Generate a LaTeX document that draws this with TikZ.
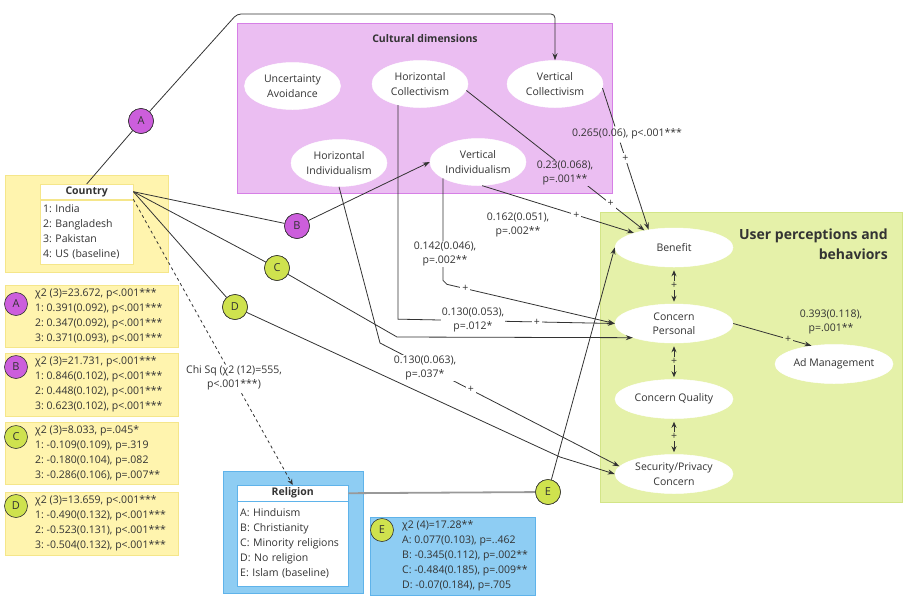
\documentclass[tikz,border=0pt]{standalone}
\usepackage{fontspec}
\setmainfont{Open Sans}
\usetikzlibrary{shapes.geometric,arrows.meta,calc}
\definecolor{cultbg}{HTML}{EBBEF2}
\definecolor{cultbd}{HTML}{D67FE6}
\definecolor{yelbg}{HTML}{FFF4AE}
\definecolor{yelbd}{HTML}{F5E68A}
\definecolor{grnbg}{HTML}{E5F1A9}
\definecolor{grnbd}{HTML}{D3E588}
\definecolor{blubg}{HTML}{8ECDF3}
\definecolor{blubd}{HTML}{5FB3EA}
\definecolor{purc}{HTML}{CC5EDC}
\definecolor{limc}{HTML}{CFE24E}
\definecolor{ink}{HTML}{333333}
\newcommand\myfs{\fontsize{10.5}{14.5}\selectfont}
\newcommand\mystat{\fontsize{10.5}{15}\selectfont}
\frenchspacing
\begin{document}
\frenchspacing
\begin{tikzpicture}[x=1pt,y=-1pt,
  every node/.style={text=ink},
  conn/.style={draw=ink, line width=0.8pt},
  arr/.style={conn, -{Stealth[length=7pt,width=5pt]}},
  dbl/.style={conn, {Stealth[length=6pt,width=5pt]}-{Stealth[length=6pt,width=5pt]}, shorten <=3pt, shorten >=2pt},
  ell/.style={ellipse, fill=white, draw=white, line width=0.5pt, inner xsep=-12pt, inner ysep=-3pt, align=center, font=\myfs},
  cellA/.style={ell, minimum width=96pt, minimum height=47pt},
  cellB/.style={ell, minimum width=118pt, minimum height=39pt},
  lab/.style={fill=white, inner sep=1pt, align=center, font=\myfs},
  pl/.style={fill=white, inner sep=2pt, font=\myfs},
  circP/.style={circle, fill=purc, draw=ink, line width=0.6pt, minimum size=25pt, inner sep=0, font=\fontsize{11}{11}\selectfont},
  circL/.style={circP, fill=limc},
  ybox/.style={draw=yelbd, fill=yelbg, anchor=north west, inner sep=0, line width=0.8pt},
  bbox/.style={draw=blubd, fill=blubg, anchor=north west, inner sep=0, line width=0.8pt},
  stat/.style={anchor=west, align=left, font=\mystat, inner sep=0},
  hdr/.style={fill=white, anchor=north west, minimum width=111pt, minimum height=16pt, inner sep=0, font=\bfseries\myfs},
  tbody/.style={fill=white, anchor=north west, inner sep=3pt, align=left, font=\mystat}
]
\useasboundingbox (0,0) rectangle (909,597);

% ---------- containers ----------
\node[draw=cultbd, fill=cultbg, anchor=north west, minimum width=375pt, minimum height=170pt, inner sep=0, line width=0.8pt] (cult) at (237,23) {};
\node[font=\bfseries\myfs] (culttitle) at (425,39) {Cultural dimensions};

\node[draw=grnbd, fill=grnbg, anchor=north west, minimum width=302pt, minimum height=290pt, inner sep=0, line width=0.8pt] (gbox) at (600,212) {};
\node[anchor=north east, align=right, font=\bfseries\fontsize{14}{20}\selectfont, inner sep=0] (gtitle) at (888,229) {User perceptions and\\behaviors};

% Country
\node[ybox, minimum width=163pt, minimum height=97pt] (cbox) at (5,175) {};
\node[hdr, draw=yelbd, minimum width=93pt, minimum height=15pt] (chead) at (40,184) {Country};
\node[tbody, draw=yelbd, minimum width=93pt, minimum height=64pt, text width=87pt] (cbody) at (40,200) {1: India\\2: Bangladesh\\3: Pakistan\\4: US (baseline)};

% Religion
\node[bbox, minimum width=140pt, minimum height=122pt] (rbox) at (223,471) {};
\node[hdr, draw=blubd] (rhead) at (237,485) {Religion};
\node[tbody, draw=blubd, minimum width=111pt, minimum height=85pt, text width=105pt] (rbody) at (237,501) {A: Hinduism\\B: Christianity\\C: Minority religions\\D: No religion\\E: Islam (baseline)};

% stats boxes
\node[ybox, minimum width=173pt, minimum height=62pt] (sa) at (5,285) {};
\node[stat] (ta) at (35,316) {χ2 (3)=23.672, p<.001***\\1: 0.391(0.092), p<.001***\\2: 0.347(0.092), p<.001***\\3: 0.371(0.093), p<.001***};
\node[circP, minimum size=23pt] (ca) at (16,304) {A};

\node[ybox, minimum width=173pt, minimum height=63pt] (sb) at (5,353) {};
\node[stat] (tb) at (35,384.5) {χ2 (3)=21.731, p<.001***\\1: 0.846(0.102), p<.001***\\2: 0.448(0.102), p<.001***\\3: 0.623(0.102), p<.001***};
\node[circP, minimum size=23pt] (cb) at (16,367) {B};

\node[ybox, minimum width=173pt, minimum height=62pt] (sc) at (5,422) {};
\node[stat] (tc) at (35,453) {χ2 (3)=8.033, p=.045*\\1: -0.109(0.109), p=.319\\2: -0.180(0.104), p=.082\\3: -0.286(0.106), p=.007**};
\node[circL, minimum size=23pt] (cc) at (16,437) {C};

\node[ybox, minimum width=173pt, minimum height=63pt] (sd) at (5,492) {};
\node[stat] (td) at (35,523.5) {χ2 (3)=13.659, p<.001***\\1: -0.490(0.132), p<.001***\\2: -0.523(0.131), p<.001***\\3: -0.504(0.132), p<.001***};
\node[circL, minimum size=23pt] (cd) at (16,506) {D};

\node[bbox, minimum width=165pt, minimum height=78pt] (se) at (370,517) {};
\node[stat] (te) at (402,556) {χ2 (4)=17.28**\\A: 0.077(0.103), p=..462\\B: -0.345(0.112), p=.002**\\C: -0.484(0.185), p=.009**\\D: -0.07(0.184), p=.705};
\node[circL, minimum size=23pt] (ce) at (382,530) {E};

% ---------- ellipses ----------
\node[cellA] (ua) at (292.5,86) {Uncertainty\\Avoidance};
\node[cellA] (hc) at (420,84) {Horizontal\\Collectivism};
\node[cellA] (vc) at (555,84) {Vertical\\Collectivism};
\node[cellA] (hi) at (339,163) {Horizontal\\Individualism};
\node[cellA] (vi) at (478,162) {Vertical\\Individualism};

\node[cellB] (ben) at (674,247.5) {Benefit};
\node[cellB] (cp) at (674,323.5) {Concern\\Personal};
\node[cellB] (cq) at (674,399) {Concern Quality};
\node[cellB] (sp) at (674,474) {Security/Privacy\\Concern};
\node[cellB] (ad) at (834,364) {Ad Management};

% ---------- path circles (positions) ----------
\node[circP] (nA) at (141,121) {};
\node[circP] (nB) at (297,226) {};
\node[circL] (nC) at (277,268) {};
\node[circL] (nD) at (235,307) {};
\node[circL] (nE) at (548,492) {};

% ---------- connectors ----------
\draw[conn] (chead.north) -- (nA);
\draw[arr, rounded corners=4pt] (nA) -- (237,14) -| (vc.north);

\draw[conn] (chead.east) -- (nB);
\draw[arr] (nB) -- (vi.west);

\draw[conn] (chead.east) -- (nC);
\draw[arr] (nC) -- (397,337) -- (cp.199);

\draw[conn] (chead.east) -- (nD);

\draw[conn, dashed, -{Stealth[length=6pt,width=5pt]}] (chead.south east) -- (rhead.north);

\draw[draw=gray!80, line width=1.8pt] (rhead.east) -- (nE);
\draw[arr] (nE) -- (ben.west);

\draw[arr] (hc.224) -- ++(0,214) -- (cp.west) node[pl,pos=0.64]{+};
\draw[arr] (vi.205) -- ++(0,102) -- ++(4,4) -- (cp.west) node[pl,pos=0.11]{+};
\draw[arr] (vi.280) -- (ben.160) node[pl,pos=0.62]{+};
\draw[arr] (hc.-8) -- (ben.150) node[pl,pos=0.81]{+};

\path (vc.-5) -- (ben.145) coordinate[pos=0.27] (vcg1) coordinate[pos=0.385] (vcg2);
\draw[conn] (vc.-5) -- (vcg1);
\draw[arr] (vcg2) -- (ben.145) node[pl,pos=0.18]{+};

\draw[arr] (hi.south) -- (380,343) -- (sp.172) node[pl,pos=0.38]{+};

\draw[arr] (cp.east) -- (ad.141) node[pl, fill=grnbg, pos=0.7]{+};
\draw[dbl] (ben.south) -- (cp.north) node[pl, fill=grnbg, inner sep=1pt, midway]{+};
\draw[dbl] (cp.south) -- (cq.north) node[pl, fill=grnbg, inner sep=1pt, midway]{+};
\draw[dbl] (cq.south) -- (sp.north) node[pl, fill=grnbg, inner sep=1pt, midway]{+};

% ---------- labels ----------
\node[lab, fill=none] (l265) at (627,134) {0.265(0.06), p<.001***};
\node[lab, fill=cultbg] (l23) at (565,173) {0.23(0.068),\\p=.001**};
\node[lab] (l162) at (518,225) {0.162(0.051),\\p=.002**};
\node[lab] (l142) at (445,254) {0.142(0.046),\\p=.002**};
\node[lab] (l130a) at (473,320) {0.130(0.053),\\p=.012*};
\node[lab] (l130b) at (425,368) {0.130(0.063),\\p=.037*};
\node[lab, fill=grnbg] (l393) at (831,322) {0.393(0.118),\\p=.001**};
\node[lab] (lchi) at (234,378) {Chi Sq (χ2 (12)=555,\\p<.001***)};

\draw[arr] (nD) -- (560,457) -- (sp.west);

% circles on top
\node[circP] at (nA) {A};
\node[circP] at (nB) {B};
\node[circL] at (nC) {C};
\node[circL] at (nD) {D};
\node[circL] at (nE) {E};
\end{tikzpicture}
\end{document}
